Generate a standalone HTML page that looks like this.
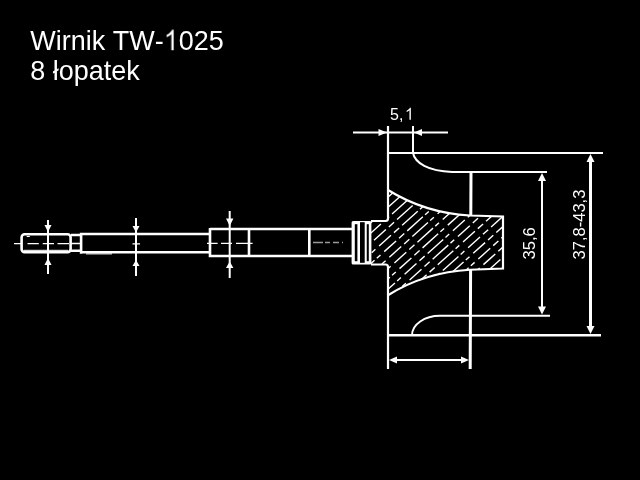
<!DOCTYPE html>
<html><head><meta charset="utf-8">
<style>
html,body{margin:0;padding:0;background:#000;width:640px;height:480px;overflow:hidden}
svg{display:block}
text{font-family:"Liberation Sans",sans-serif;fill:#fff}
.t{will-change:transform}
</style></head>
<body>
<svg width="640" height="480" viewBox="0 0 640 480">
<rect width="640" height="480" fill="#000"/>
<defs>
<clipPath id="hub">
<path d="M371,221 L388,221 L388,190 Q425,213 470,215.5 L503,216.5 L503,268.5 L470,269.75 Q425,272.2 388,295.2 L388,264.5 L371,264.5 Z"/>
</clipPath>
</defs>
<g class="t">
<text transform="translate(0,50.2) scale(1,1.055)" y="0" font-size="27" x="30.2 55.68 61.68 70.67 85.69 91.69 105.19 112.69 129.18 154.67 178.67 193.69 208.71">Wirnik TW-025</text>
<text transform="translate(0,79.9) scale(1,1.055)" y="0" font-size="27" x="30.2 45.22 52.72 58.72 73.73 88.75 103.76 111.27 126.28">8 łopatek</text>
<text transform="translate(390,119.7) scale(1,1.05)" x="0" y="0" font-size="16">5,</text>
<text transform="translate(534.6,259.6) rotate(-90) scale(1.04,1)" font-size="16">35,6</text>
<text transform="translate(584.5,259.4) rotate(-90) scale(1.033,1)" font-size="16">37,8-43,3</text>
</g>

<!-- Arial-style "1" glyphs -->
<path fill="#fff" transform="translate(163.66,50.2) scale(0.013184,-0.01391)" d="M763,0 L583,0 L583,1147 Q518,1085 412.5,1023 Q307,961 223,930 L223,1104 Q374,1175 487,1276 Q600,1377 647,1472 L763,1472 Z"/>
<path fill="#fff" transform="translate(404.9,119.7) scale(0.0078125,-0.0082)" d="M763,0 L583,0 L583,1147 Q518,1085 412.5,1023 Q307,961 223,930 L223,1104 Q374,1175 487,1276 Q600,1377 647,1472 L763,1472 Z"/>
<!-- hatch -->
<g clip-path="url(#hub)" stroke="#fff" stroke-width="1.4" fill="none" stroke-dasharray="16 4 7 4 21 3 5 5">
<path d="M300.3,255.6 L463.8,108.4 M305.4,261.2 L468.9,114.0 M310.5,266.9 L474.0,119.7 M315.6,272.5 L479.1,125.3 M320.7,278.2 L484.2,131.0 M325.7,283.8 L489.2,136.6 M330.8,289.5 L494.3,142.3 M335.9,295.1 L499.4,147.9 M341.0,300.8 L504.5,153.6 M346.1,306.4 L509.6,159.2 M351.2,312.1 L514.7,164.9 M356.3,317.7 L519.8,170.5 M361.3,323.4 L524.8,176.2 M366.4,329.0 L529.9,181.8 M371.5,334.7 L535.0,187.5 M376.6,340.3 L540.1,193.1 M381.7,346.0 L545.2,198.8 M386.8,351.6 L550.3,204.4 M391.9,357.3 L555.4,210.0 M396.9,362.9 L560.4,215.7 M402.0,368.6 L565.5,221.3 M407.1,374.2 L570.6,227.0 M412.2,379.9 L575.7,232.6 M417.3,385.5 L580.8,238.3 M422.4,391.1 L585.9,243.9 M427.5,396.8 L590.9,249.6 M432.5,402.4 L596.0,255.2 M437.6,408.1 L601.1,260.9 M442.7,413.7 L606.2,266.5"/>
</g>

<g fill="none" stroke="#fff" stroke-width="2.6">
<!-- shaft end piece -->
<rect x="21.6" y="234.2" width="49" height="17.9" rx="3"/>
<path d="M71,235 H81 M71,250.8 H81"/>
<path d="M81.1,232.8 V253.7 M81,234 H210 M81,252.3 H210"/>
<path d="M210,228 V257.3 M210,229 H352 M210,256 H352 M249,229 V256 M309.3,229 V256"/>
</g>
<g fill="none" stroke="#fff" stroke-width="2.2">
<!-- hub outline -->
<path d="M371,221 H385.5 Q388,221 388,218.5 V126"/>
<path d="M371,264.5 H385.5 Q388,264.5 388,267 V369"/>
<path d="M388,190 Q425,213 470,215.5 L503,216.5 V268.5 L470,269.75 Q425,272.2 388,295.2"/>
</g>
<g fill="none" stroke="#fff" stroke-width="2">
<path d="M413,153 C415,163 428,171 452,172 H547"/>
<path d="M412,335.2 A28,19.4 0 0 1 440,315.8 H550"/>
<path d="M388,153 H603"/>
<path d="M413,126 V153 M353,132.5 H448"/>
<path d="M542,178 V308"/>
<path d="M394,360 H464"/>
<path d="M48,220 V274 M136,218 V276 M229.7,211 V278"/>
</g>
<path d="M388,335.3 H601" stroke="#fff" stroke-width="2.6"/>
<path d="M590.5,159 V328" stroke="#fff" stroke-width="3"/>
<path d="M471,172 L470.8,215.5 M470.6,269.75 L470.2,369" stroke="#fff" stroke-width="3"/>
<!-- ring block -->
<rect x="351.6" y="221" width="19.8" height="43.4" rx="1.5" fill="#fff"/>
<g fill="#000">
<rect x="354.8" y="224.2" width="2.6" height="37"/>
<rect x="360" y="222.2" width="4.7" height="40.6"/>
<rect x="366.75" y="224.2" width="2.05" height="37"/>
</g>
<!-- arrowheads -->
<g fill="#fff">
<path d="M387,132.5 L378.5,129 L378.5,136 Z"/>
<path d="M414,132.5 L422,129 L422,136 Z"/>
<path d="M542,173 L538,181 L546,181 Z"/>
<path d="M542,314.5 L538,306.5 L546,306.5 Z"/>
<path d="M590.5,154 L586.5,162 L594.5,162 Z"/>
<path d="M590.5,334 L586.5,326 L594.5,326 Z"/>
<path d="M389,360 L397,356.5 L397,363.5 Z"/>
<path d="M469,360 L461,356.5 L461,363.5 Z"/>
<path d="M48,232 L44.5,225 L51.5,225 Z"/>
<path d="M48,258 L44.5,265 L51.5,265 Z"/>
<path d="M136,232.5 L132.5,226 L139.5,226 Z"/>
<path d="M136,260 L132.5,266 L139.5,266 Z"/>
<path d="M229.7,226 L226,218.5 L233.4,218.5 Z"/>
<path d="M229.7,261.5 L226,268 L233.4,268 Z"/>
</g>
<!-- center lines -->
<path d="M24,250.3 H68 M86,253.9 H112 M26.7,236.5 H29.8" stroke="#fff" stroke-width="1"/>
<g stroke="#fff" stroke-width="1.3" fill="none">
<path d="M14,243.6 H21 M27.5,243.6 H38.8 M42.7,243.6 H54 M57.5,243.6 H69 M71,243.5 H81 M132.5,243.8 H140 M207,243.4 H217.6 M221,243.4 H232 M236,243.4 H252.6"/>
<path d="M313,242.5 H343" stroke="#999" stroke-dasharray="10 2 5 3 6 3"/>
</g>
</svg>
</body></html>
